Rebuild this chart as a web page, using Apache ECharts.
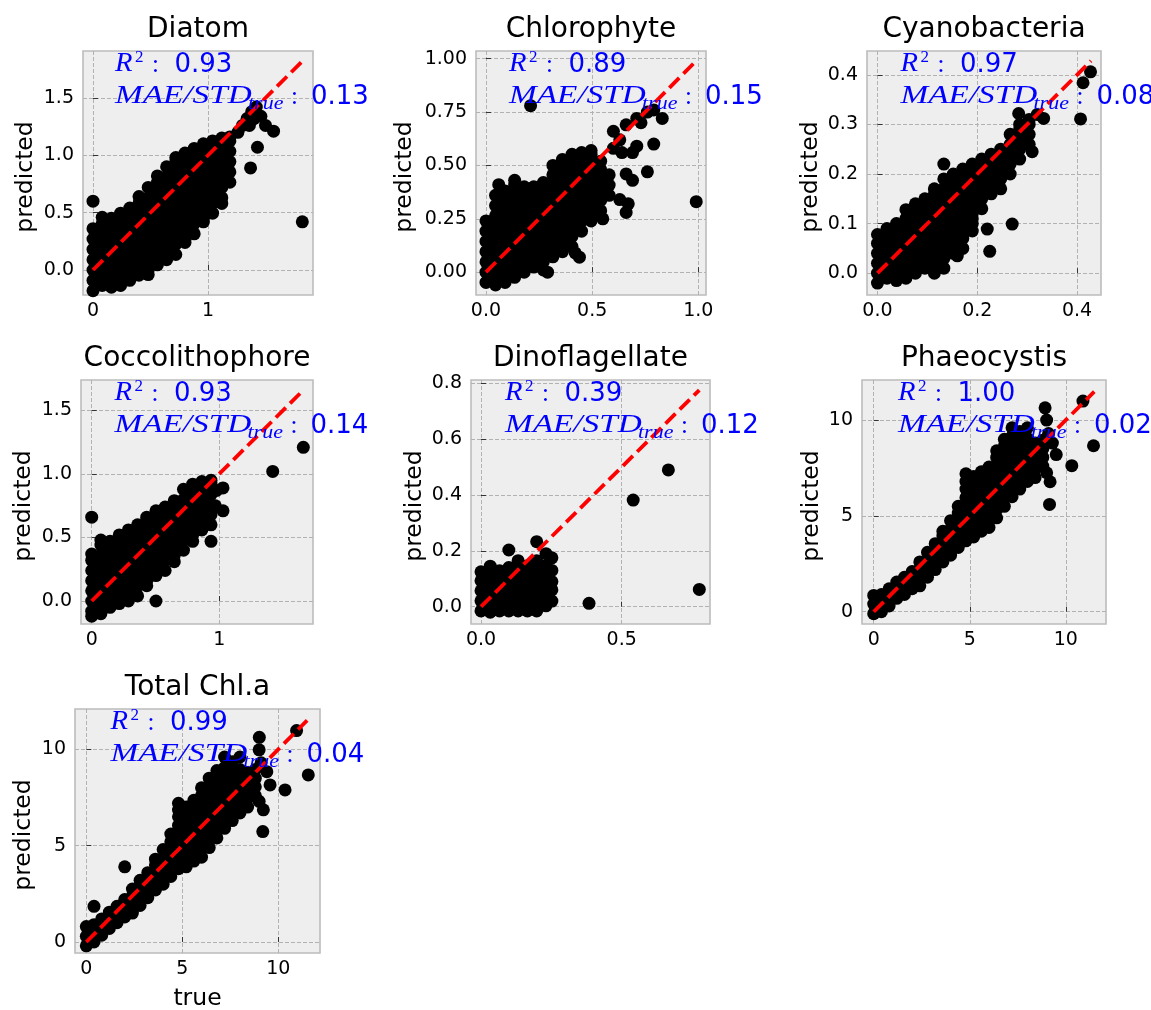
<!DOCTYPE html>
<html><head><meta charset="utf-8">
<script src="https://cdn.jsdelivr.net/npm/echarts@6/dist/echarts.min.js"></script>
<style>html,body{margin:0;padding:0;background:#fff}#c{width:1151px;height:1010px}</style>
</head><body><div id="c"></div>
<script>
// ---------- labels & metrics ----------
const titles = ['Diatom','Chlorophyte','Cyanobacteria','Coccolithophore','Dinoflagellate','Phaeocystis','Total Chl.a'];
const r2Values = ['0.93','0.89','0.97','0.93','0.39','1.00','0.99'];
const maeValues = ['0.13','0.15','0.08','0.14','0.12','0.02','0.04'];
const xTicks = [[0,1],[0,0.5,1.0],[0,0.2,0.4],[0,1],[0,0.5],[0,5,10],[0,5,10]];
const yTicks = [[0,0.5,1.0,1.5],[0,0.25,0.5,0.75,1.0],[0,0.1,0.2,0.3,0.4],[0,0.5,1.0,1.5],[0,0.2,0.4,0.6,0.8],[0,5,10],[0,5,10]];
const xTickDecimals = [0,1,1,0,1,0,0];
const yTickDecimals = [1,2,1,1,1,0,0];
const xMin = [-0.087,-0.047,-0.021,-0.084,-0.0355,-0.61,-0.59];
const xMax = [1.913,1.036,0.448,1.736,0.814,12.09,12.17];
const yMin = [-0.218,-0.107,-0.044,-0.181,-0.062,-0.64,-0.57];
const yMax = [1.909,1.036,0.448,1.740,0.812,12.09,12.09];
const diagMax = [1.82,0.99,0.428,1.66,0.776,11.48,11.5];

// ---------- data: true value columns, predicted values per column, extra points ----------
const diatomTrue = [0,0.08,0.16,0.24,0.32,0.40,0.48,0.56,0.64,0.72,0.80,0.88,0.96,1.04,1.12,1.19];
const diatomPred = [
 [-0.18,-0.09,0,0.09,0.18,0.27,0.36,0.60],
 [-0.135,-0.045,0.045,0.135,0.225,0.315,0.405,0.46],
 [-0.15,-0.09,0,0.09,0.18,0.27,0.36,0.45],
 [-0.135,-0.045,0.045,0.135,0.225,0.315,0.405,0.495],
 [-0.09,0,0.09,0.18,0.27,0.36,0.45,0.54],
 [-0.045,0.045,0.135,0.225,0.315,0.405,0.495,0.585,0.64],
 [-0.04,0,0.09,0.18,0.27,0.36,0.45,0.54,0.63,0.72],
 [0.045,0.135,0.225,0.315,0.405,0.495,0.585,0.675,0.765,0.82],
 [0.09,0.18,0.27,0.36,0.45,0.54,0.63,0.72,0.81,0.90],
 [0.135,0.225,0.315,0.405,0.495,0.585,0.675,0.765,0.855,0.945,0.98],
 [0.24,0.27,0.36,0.45,0.54,0.63,0.72,0.81,0.90,0.99,1.02],
 [0.315,0.405,0.495,0.585,0.675,0.765,0.855,0.945,1.035,1.06],
 [0.42,0.45,0.54,0.63,0.72,0.81,0.90,0.99,1.08,1.10],
 [0.495,0.585,0.675,0.765,0.855,0.945,1.035,1.125],
 [0.58,0.63,0.72,0.81,0.90,0.99,1.08,1.15],
 [0.765,0.855,0.945,1.035,1.125,1.16]
];
const diatomExtra = [[1.26,1.20],[1.30,1.26],[1.34,1.32],[1.38,1.38],[1.42,1.42],[1.40,1.32],[1.46,1.34],[1.50,1.26],[1.36,1.26],[1.37,0.89],[1.43,1.07],[1.57,1.21],[1.82,0.42]];

const chloroTrue = [0,0.045,0.09,0.135,0.18,0.225,0.27,0.315,0.36,0.405,0.45,0.495,0.54,0.58];
const chloroPred = [
 [-0.048,0,0.048,0.096,0.144,0.192,0.24],
 [-0.06,-0.024,0.024,0.072,0.12,0.168,0.216,0.264,0.312,0.36],
 [-0.048,0,0.048,0.096,0.144,0.192,0.24,0.288,0.336,0.38],
 [-0.024,0.024,0.072,0.12,0.168,0.216,0.264,0.312,0.36,0.408,0.43],
 [0,0.048,0.096,0.144,0.192,0.24,0.288,0.336,0.384,0.40],
 [0.024,0.072,0.12,0.168,0.216,0.264,0.312,0.36,0.40],
 [0.01,0.048,0.096,0.144,0.192,0.24,0.288,0.336,0.384,0.42],
 [0.072,0.12,0.168,0.216,0.264,0.312,0.36,0.408,0.456,0.50],
 [0.096,0.144,0.192,0.24,0.288,0.336,0.384,0.432,0.48,0.528],
 [0.12,0.168,0.216,0.264,0.312,0.36,0.408,0.456,0.504,0.552],
 [0.192,0.24,0.288,0.336,0.384,0.432,0.48,0.528,0.56],
 [0.24,0.264,0.312,0.36,0.408,0.456,0.504,0.552,0.57],
 [0.288,0.336,0.384,0.432,0.48,0.52],
 [0.36,0.408,0.456]
];
const chloroExtra = [[0.06,0.41],[0.29,0.00],[0.42,0.09],[0.44,0.07],[0.21,0.78],[0.99,0.33],[0.76,0.47],[0.79,0.60],[0.71,0.59],[0.69,0.56],[0.66,0.46],[0.69,0.43],[0.63,0.34],[0.67,0.32],[0.66,0.28],[0.55,0.25],[0.60,0.66],[0.63,0.62],[0.66,0.69],[0.71,0.72],[0.76,0.75],[0.79,0.76],[0.83,0.72],[0.73,0.70],[0.60,0.58],[0.64,0.56]];

const cyanoTrue = [0,0.019,0.038,0.057,0.076,0.095,0.114,0.133,0.152,0.171,0.19,0.209,0.228,0.247,0.266,0.285,0.304];
const cyanoPred = [
 [-0.02,0,0.02,0.04,0.06,0.078],
 [-0.01,0.01,0.03,0.05,0.07,0.09],
 [-0.015,0,0.02,0.04,0.06,0.08,0.10],
 [-0.01,0.01,0.03,0.05,0.07,0.09,0.11,0.128],
 [0,0.02,0.04,0.06,0.08,0.10,0.12,0.14],
 [0.01,0.03,0.05,0.07,0.09,0.11,0.13,0.15],
 [0,0.02,0.04,0.06,0.08,0.10,0.12,0.14,0.16,0.17],
 [0.01,0.03,0.05,0.07,0.09,0.11,0.13,0.15,0.17,0.19,0.22],
 [0.04,0.06,0.08,0.10,0.12,0.14,0.16,0.18,0.20],
 [0.05,0.07,0.09,0.11,0.13,0.15,0.17,0.19,0.21],
 [0.085,0.10,0.12,0.14,0.16,0.18,0.20,0.22],
 [0.13,0.15,0.17,0.19,0.21,0.23],
 [0.16,0.18,0.20,0.22,0.24],
 [0.17,0.19,0.21,0.23,0.25],
 [0.20,0.22,0.24,0.26,0.28],
 [0.23,0.25,0.27,0.29,0.30],
 [0.26,0.28,0.30,0.31]
];
const cyanoExtra = [[0.16,0.035],[0.22,0.089],[0.225,0.044],[0.27,0.099],[0.407,0.311],[0.412,0.384],[0.427,0.406],[0.333,0.312],[0.32,0.32],[0.283,0.322],[0.31,0.245],[0.19,0.11]];

const coccoTrue = [0,0.072,0.144,0.216,0.288,0.36,0.432,0.504,0.576,0.648,0.72,0.792,0.864,0.936];
const coccoPred = [
 [-0.12,-0.08,0,0.08,0.16,0.24,0.32,0.37,0.66],
 [-0.10,-0.04,0.04,0.12,0.20,0.28,0.36,0.44,0.48],
 [-0.05,0,0.08,0.16,0.24,0.32,0.40,0.47],
 [-0.02,0.04,0.12,0.20,0.28,0.36,0.44,0.52],
 [0,0.08,0.16,0.24,0.32,0.40,0.48,0.56],
 [0.04,0.12,0.20,0.28,0.36,0.44,0.52,0.60],
 [0.12,0.16,0.24,0.32,0.40,0.48,0.56,0.64,0.66],
 [0.0,0.20,0.28,0.36,0.44,0.52,0.60,0.68,0.71],
 [0.24,0.32,0.40,0.48,0.56,0.64,0.72,0.74],
 [0.31,0.36,0.44,0.52,0.60,0.68,0.76,0.79],
 [0.40,0.48,0.56,0.64,0.72,0.80,0.88],
 [0.47,0.52,0.60,0.68,0.76,0.84,0.92],
 [0.56,0.64,0.72,0.80,0.88,0.94],
 [0.47,0.60,0.68,0.76,0.84,0.92,0.95]
];
const coccoExtra = [[0.98,0.87],[1.03,0.89],[1.03,0.71],[0.97,0.75],[1.42,1.02],[1.66,1.21]];

const dinoTrue = [0,0.033,0.066,0.099,0.132,0.165,0.198,0.231,0.252];
const dinoPred = [
 [-0.015,0.021,0.057,0.093,0.125],
 [-0.02,0.003,0.039,0.075,0.111,0.145],
 [-0.015,0.021,0.057,0.093,0.129],
 [-0.015,0.003,0.039,0.075,0.111,0.14,0.203],
 [-0.015,0.021,0.057,0.093,0.129,0.165],
 [-0.015,0.003,0.039,0.075,0.111,0.147],
 [-0.015,0.021,0.057,0.093,0.129,0.165,0.233],
 [0.003,0.039,0.075,0.111,0.147,0.19],
 [0.02,0.06,0.09,0.13,0.175]
];
const dinoExtra = [[0.384,0.012],[0.541,0.382],[0.666,0.49],[0.776,0.062]];

const phaeoTrue = [0,0.4,0.8,1.2,1.6,2.0,2.4,2.8,3.2,3.6,4.0,4.4,4.8,5.2,5.6,6.0,6.4,6.8,7.2,7.6,8.0,8.4,8.8];
const phaeoPred = [
 [-0.1,0.4,0.85],
 [0.0,0.45,0.9],
 [0.3,0.8,1.2],
 [0.7,1.15,1.55],
 [0.9,1.35,1.8],
 [1.2,1.65,2.1],
 [1.35,1.8,2.25,2.6],
 [1.8,2.25,2.7,3.1],
 [2.2,2.65,3.1,3.55],
 [2.6,3.05,3.5,3.95,4.2],
 [2.95,3.4,3.85,4.3,4.75],
 [3.35,3.8,4.25,4.7,5.15,5.5],
 [3.7,4.15,4.6,5.05,5.5,5.95,6.4,6.8,7.2],
 [3.9,4.35,4.8,5.25,5.7,6.15,6.6,7.05],
 [4.2,4.65,5.1,5.55,6.0,6.45,6.9,7.3],
 [4.4,4.85,5.3,5.75,6.2,6.65,7.1,7.55],
 [4.9,5.35,5.8,6.25,6.7,7.15,7.6,8.05,8.4],
 [5.5,5.95,6.4,6.85,7.3,7.75,8.2,8.65,9.0],
 [6.0,6.45,6.9,7.35,7.8,8.25,8.7,9.15,9.6],
 [6.4,6.85,7.3,7.75,8.2,8.65,9.1,9.4],
 [6.8,7.25,7.7,8.15,8.6,9.05,9.6],
 [7.0,7.45,7.9,8.35,8.8],
 [7.6,8.05,8.5,8.95]
];
const phaeoExtra = [[9.15,5.6],[9.18,6.78],[9.0,7.25],[10.31,7.62],[11.44,8.66],[10.89,10.99],[8.92,10.64],[9.0,10.0],[9.5,8.2],[9.3,8.8],[9.1,9.3]];

const totalTrue = [0,0.4,0.8,1.2,1.6,2.0,2.4,2.8,3.2,3.6,4.0,4.4,4.8,5.2,5.6,6.0,6.4,6.8,7.2,7.6,8.0,8.4,8.8];
const totalPred = [
 [-0.2,0.3,0.8],
 [0.0,0.45,0.9,1.85],
 [0.35,0.8,1.2],
 [0.7,1.15,1.55],
 [1.0,1.45,1.85],
 [1.3,1.75,2.2,3.9],
 [1.5,1.95,2.4,2.75],
 [1.9,2.35,2.8,3.2],
 [2.3,2.75,3.2,3.6],
 [2.7,3.15,3.6,4.0,4.3],
 [3.0,3.45,3.9,4.35,4.8],
 [3.4,3.85,4.3,4.75,5.2,5.6],
 [3.8,4.25,4.7,5.15,5.6,6.05,6.5,6.85,7.2],
 [3.9,4.35,4.8,5.25,5.7,6.15,6.6,7.0],
 [4.2,4.65,5.1,5.55,6.0,6.45,6.9,7.35],
 [4.4,4.85,5.3,5.75,6.2,6.65,7.1,7.6,8.0],
 [4.9,5.35,5.8,6.25,6.7,7.15,7.6,8.05,8.5],
 [5.4,5.85,6.3,6.75,7.2,7.65,8.1,8.55,8.9],
 [5.9,6.35,6.8,7.25,7.7,8.15,8.6,9.05,9.6],
 [6.3,6.75,7.2,7.65,8.1,8.55,9.0,9.35],
 [6.7,7.15,7.6,8.05,8.5,8.95,9.6],
 [7.0,7.45,7.9,8.35,8.8],
 [7.6,8.05,8.5,8.95]
];
const totalExtra = [[9.19,5.73],[9.22,6.86],[9.0,7.3],[10.35,7.89],[11.56,8.67],[10.95,10.97],[9.01,10.62],[9.0,9.97],[9.57,8.15],[9.4,8.84],[9.1,9.3]];

// ---------- layout (pixels) ----------
const gridBoxes = [
 {left:83, top:51, width:230, height:244},
 {left:476, top:51, width:230, height:244},
 {left:867, top:51, width:234, height:244},
 {left:81, top:380, width:232, height:244},
 {left:471, top:380, width:239, height:244},
 {left:862, top:380, width:244, height:244},
 {left:75, top:709, width:245, height:244}
];
const yLabelOffset = [57,71,56,57,56,50,51];
const annOffset = [32,33,33.5,33.5,34,36,35.5];

function buildPoints(trueCols, predCols, extra) {
  const pts = [];
  trueCols.forEach((t, i) => predCols[i].forEach(p => pts.push([t, p])));
  extra.forEach(e => pts.push(e));
  return pts;
}
const allPoints = [
  buildPoints(diatomTrue, diatomPred, diatomExtra),
  buildPoints(chloroTrue, chloroPred, chloroExtra),
  buildPoints(cyanoTrue, cyanoPred, cyanoExtra),
  buildPoints(coccoTrue, coccoPred, coccoExtra),
  buildPoints(dinoTrue, dinoPred, dinoExtra),
  buildPoints(phaeoTrue, phaeoPred, phaeoExtra),
  buildPoints(totalTrue, totalPred, totalExtra)
];

const SANS = '"DejaVu Sans", sans-serif';
const SERIF = '"Liberation Serif", "DejaVu Serif", serif';
const BLUE = '#0000ff';

const grid = [], xAxis = [], yAxis = [], series = [], graphic = [];
function txt(x, y, text, size, family, color, opts) {
  opts = opts || {};
  return {
    type: 'text', x: x, y: y, silent: true, z: 100,
    rotation: opts.rotation || 0,
    scaleX: opts.scaleX || 1,
    style: {
      text: text, fill: color, fontSize: size, fontFamily: family,
      fontStyle: opts.italic ? 'italic' : 'normal',
      align: opts.align || 'left', textAlign: opts.align || 'left',
      verticalAlign: 'middle', textVerticalAlign: 'middle'
    }
  };
}

for (let i = 0; i < 7; i++) {
  const g = gridBoxes[i];
  grid.push({left: g.left, top: g.top, width: g.width, height: g.height, show: true,
    backgroundColor: '#eeeeee', borderColor: '#bcbcbc', borderWidth: 1.6, containLabel: false});
  const axisCommon = {
    type: 'value', gridIndex: i,
    axisLine: {show: false},
    splitLine: {show: true, lineStyle: {color: '#b2b2b2', width: 1, type: [4, 2]}}
  };
  xAxis.push(Object.assign({}, axisCommon, {
    min: xMin[i], max: xMax[i],
    axisTick: {show: true, inside: true, length: 5, customValues: xTicks[i], lineStyle: {color: '#333', width: 1}},
    axisLabel: {show: true, margin: 7, customValues: xTicks[i], fontSize: 19, fontFamily: SANS, color: '#000',
      formatter: (v) => Number(v).toFixed(xTickDecimals[i])}
  }));
  yAxis.push(Object.assign({}, axisCommon, {
    min: yMin[i], max: yMax[i],
    axisTick: {show: true, inside: true, length: 5, customValues: yTicks[i], lineStyle: {color: '#333', width: 1}},
    axisLabel: {show: true, margin: 9, customValues: yTicks[i], fontSize: 19, fontFamily: SANS, color: '#000',
      formatter: (v) => Number(v).toFixed(yTickDecimals[i])}
  }));
  series.push({
    type: 'scatter', xAxisIndex: i, yAxisIndex: i, data: allPoints[i],
    symbolSize: 13, itemStyle: {color: '#000', opacity: 1}, silent: true, z: 2
  });
  series.push({
    type: 'line', xAxisIndex: i, yAxisIndex: i, data: [[0, 0], [diagMax[i], diagMax[i]]],
    symbol: 'none', lineStyle: {color: '#ff0000', width: 3.8, type: [14, 6]}, silent: true, z: 3
  });
  graphic.push(txt(g.left + g.width / 2, g.top - 21, titles[i], 28, SANS, '#000', {align: 'center'}));
  graphic.push(txt(g.left - yLabelOffset[i], g.top + g.height / 2 + 4, 'predicted', 23.5, SANS, '#000', {align: 'center', rotation: Math.PI / 2}));
  const ax = g.left + annOffset[i];
  graphic.push(txt(ax, g.top + 13, 'R', 26.5, SERIF, BLUE, {italic: true, scaleX: 1.08}));
  graphic.push(txt(ax + 20, g.top + 7, '2', 17, SERIF, BLUE));
  graphic.push(txt(ax + 37, g.top + 14, ':', 25, SERIF, BLUE));
  graphic.push(txt(ax + 59.5, g.top + 14, r2Values[i], 26, SANS, BLUE));
  graphic.push(txt(ax, g.top + 45, 'MAE/STD', 25, SERIF, BLUE, {italic: true, scaleX: 1.33}));
  graphic.push(txt(ax + 133, g.top + 53, 'true', 18, SERIF, BLUE, {italic: true, scaleX: 1.22}));
  graphic.push(txt(ax + 176, g.top + 46, ':', 25, SERIF, BLUE));
  graphic.push(txt(ax + 196, g.top + 46, maeValues[i], 26, SANS, BLUE));
}
graphic.push(txt(gridBoxes[6].left + gridBoxes[6].width / 2, 999, 'true', 23.5, SANS, '#000', {align: 'center'}));

const chart = echarts.init(document.getElementById('c'), null, {renderer: 'canvas'});
chart.setOption({
  animation: false,
  backgroundColor: '#ffffff',
  grid: grid, xAxis: xAxis, yAxis: yAxis, series: series, graphic: graphic
});
</script>
</body></html>
